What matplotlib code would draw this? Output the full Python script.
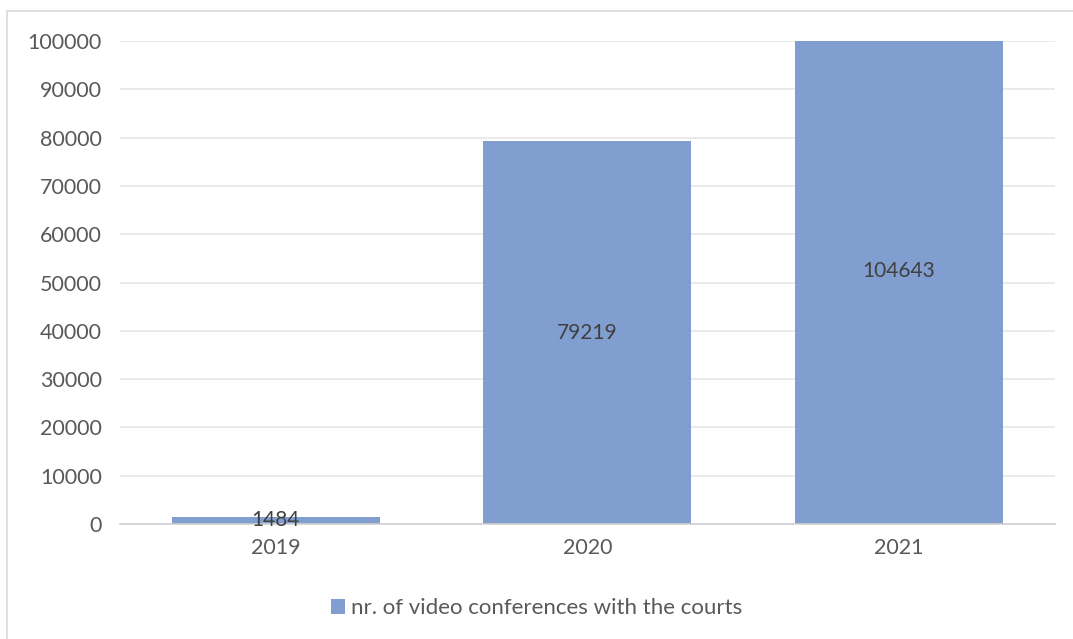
import matplotlib.pyplot as plt
from matplotlib.patches import Rectangle

years = ["2019", "2020", "2021"]
conferences = [1484, 79219, 104643]
series_name = "nr. of video conferences with the courts"
y_ticks = [0, 10000, 20000, 30000, 40000, 50000, 60000, 70000, 80000, 90000, 100000]

plt.rcParams["font.family"] = ["Lato", "DejaVu Sans"]

fig = plt.figure(figsize=(10.73, 6.39), dpi=100)
ax = fig.add_axes([0.1118, 0.18, 0.8712, 0.7558])

# outer chart frame (cropped at right and bottom)
fig.patches.append(Rectangle((7 / 1073, -0.1), 1.2, 1.1 - 11 / 639,
                             transform=fig.transFigure, fill=False,
                             edgecolor="#D9D9D9", linewidth=1.2))

x = range(len(years))
bars = ax.bar(x, conferences, width=0.667, color="#7A99CF", alpha=0.95,
              zorder=2, label=series_name)

for xi, v in zip(x, conferences):
    ax.text(xi, v / 2, str(v), ha="center", va="center", fontsize=15,
            color="#404040", zorder=4)

ax.set_ylim(0, 100000)
ax.set_xlim(-0.5, 2.5)
ax.set_yticks(y_ticks)
ax.set_yticklabels([str(t) for t in y_ticks])
ax.set_xticks(list(x))
ax.set_xticklabels(years)
ax.tick_params(axis="both", length=0, labelsize=15.5, labelcolor="#595959")
ax.tick_params(axis="y", pad=13)
ax.tick_params(axis="x", pad=10)

ax.grid(axis="y", color="#E6E6E6", linewidth=1.2, zorder=1)
ax.set_axisbelow(True)
for s in ["top", "right", "left"]:
    ax.spines[s].set_visible(False)
ax.spines["bottom"].set_color("#D0D0D0")
ax.spines["bottom"].set_linewidth(1.2)
ax.spines["bottom"].set_zorder(3)

leg = fig.legend(handles=[bars], labels=[series_name], loc="center",
                 bbox_to_anchor=(0.5, 1 - 608 / 639), frameon=False,
                 fontsize=16, handlelength=0.65, handleheight=0.65,
                 handletextpad=0.25, labelcolor="#595959")

fig.savefig("out.png", dpi=100)
